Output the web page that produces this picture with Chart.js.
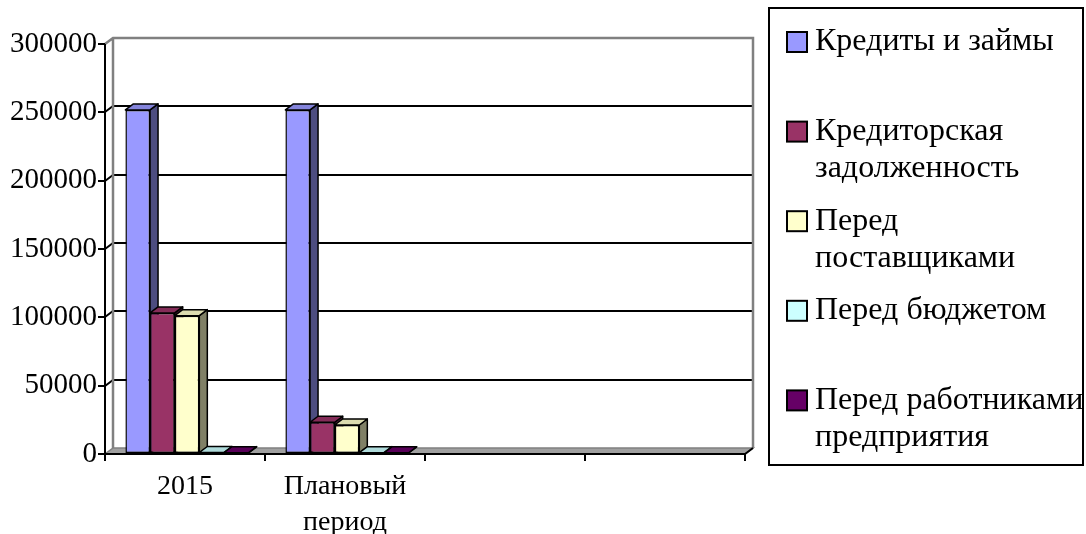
<!DOCTYPE html>
<html lang="ru">
<head>
<meta charset="utf-8">
<title>Кредиты и кредиторская задолженность</title>
<script src="https://cdn.jsdelivr.net/npm/chart.js@4/dist/chart.umd.min.js"></script>
<style>
  html, body { margin: 0; padding: 0; background: #ffffff; }
  #wrap { position: relative; width: 1086px; height: 534px; }
</style>
</head>
<body>
<div id="wrap"><canvas id="chart"></canvas></div>
<script>
// Categories along the X axis (two empty slots keep the original spacing)
const categories = ['2015', ['Плановый', 'период'], '', ''];

// Series values, by category
const creditsAndLoans   = [251000, 251000, null, null];
const accountsPayable   = [102500, 22500, null, null];
const toSuppliers       = [100500, 20500, null, null];
const toBudget          = [350, 250, null, null];
const toEmployees       = [250, 150, null, null];

// Legend captions, split into lines
const seriesNames = [
  ['Кредиты и займы'],
  ['Кредиторская', 'задолженность'],
  ['Перед', 'поставщиками'],
  ['Перед бюджетом'],
  ['Перед работниками', 'предприятия']
];
const seriesColors = ['#9999ff', '#993366', '#ffffcc', '#ccffff', '#660066'];

// Value axis
const yMin = 0, yMax = 300000, yStep = 50000;

const FONT = '"Liberation Serif", "Times New Roman", serif';
const DEPTH = { dx: 8, dy: -6 };

function shade(hex, k) {
  const n = parseInt(hex.slice(1), 16);
  const r = Math.round(((n >> 16) & 255) * k);
  const g = Math.round(((n >> 8) & 255) * k);
  const b = Math.round((n & 255) * k);
  return `rgb(${r},${g},${b})`;
}

function poly(ctx, pts) {
  ctx.beginPath();
  ctx.moveTo(pts[0][0], pts[0][1]);
  for (let i = 1; i < pts.length; i++) ctx.lineTo(pts[i][0], pts[i][1]);
  ctx.closePath();
}

// Back wall, floor, gridlines and bar extrusions
const scene3d = {
  id: 'scene3d',
  beforeDatasetsDraw(chart) {
    const { ctx, chartArea: { left, right, top, bottom }, scales: { y } } = chart;
    const { dx, dy } = DEPTH;
    ctx.save();
    ctx.lineJoin = 'miter';

    // back wall
    ctx.fillStyle = '#ffffff';
    ctx.fillRect(left + dx, top + dy, right - left, bottom - top);

    // floor
    poly(ctx, [[left, bottom], [right, bottom], [right + dx, bottom + dy], [left + dx, bottom + dy]]);
    ctx.fillStyle = '#a0a0a0';
    ctx.fill();
    ctx.strokeStyle = '#808080';
    ctx.lineWidth = 1.5;
    ctx.stroke();

    // gridlines on the back wall, joined to the front axis
    ctx.strokeStyle = '#000000';
    ctx.lineWidth = 2;
    y.ticks.forEach(t => {
      if (t.value <= yMin || t.value >= yMax) return;
      const yy = Math.round(y.getPixelForValue(t.value));
      ctx.beginPath();
      ctx.moveTo(left, yy);
      ctx.lineTo(left + dx, yy + dy);
      ctx.lineTo(right + dx, yy + dy);
      ctx.stroke();
    });

    // wall edges
    ctx.strokeStyle = '#808080';
    ctx.lineWidth = 2.5;
    ctx.beginPath();
    ctx.moveTo(left, top);
    ctx.lineTo(left + dx, top + dy);
    ctx.lineTo(right + dx, top + dy);
    ctx.lineTo(right + dx, bottom + dy);
    ctx.moveTo(left + dx, top + dy);
    ctx.lineTo(left + dx, bottom + dy);
    ctx.stroke();
    ctx.restore();

    // bars sit slightly into the depth
    ctx.save();
    ctx.translate(2, -1);
    const bars = [];
    chart.data.datasets.forEach((ds, i) => {
      const meta = chart.getDatasetMeta(i);
      meta.data.forEach((bar, j) => {
        if (ds.data[j] == null) return;
        const p = bar.getProps(['x', 'y', 'base', 'width'], true);
        bars.push({ l: p.x - p.width / 2, r: p.x + p.width / 2, t: p.y, b: p.base, c: ds.backgroundColor });
      });
    });
    bars.sort((a, b) => a.l - b.l);
    ctx.lineWidth = 1.5;
    ctx.strokeStyle = '#000000';
    ctx.lineJoin = 'round';
    bars.forEach(bar => {
      poly(ctx, [[bar.r, bar.t], [bar.r + dx, bar.t + dy], [bar.r + dx, bar.b + dy], [bar.r, bar.b]]);
      ctx.fillStyle = shade(bar.c, 0.5);
      ctx.fill();
      ctx.stroke();
      poly(ctx, [[bar.l, bar.t], [bar.l + dx, bar.t + dy], [bar.r + dx, bar.t + dy], [bar.r, bar.t]]);
      ctx.fillStyle = shade(bar.c, 0.86);
      ctx.fill();
      ctx.stroke();
    });
    // translation stays in effect while the bar fronts are drawn
  },
  afterDatasetsDraw(chart) {
    const { ctx, chartArea: { left, right, top, bottom }, scales: { y } } = chart;
    const { dx, dy } = DEPTH;
    ctx.restore();
    ctx.save();
    ctx.strokeStyle = '#000000';
    ctx.lineWidth = 2;
    // front value axis with ticks
    ctx.beginPath();
    ctx.moveTo(left, top);
    ctx.lineTo(left, bottom);
    y.ticks.forEach(t => {
      const yy = Math.round(y.getPixelForValue(t.value));
      ctx.moveTo(left - 7, yy);
      ctx.lineTo(left, yy);
    });
    // front category axis with ticks between categories
    ctx.moveTo(left - 7, bottom);
    ctx.lineTo(right, bottom);
    ctx.lineTo(right + dx, bottom + dy);
    const n = chart.data.labels.length;
    for (let i = 0; i <= n; i++) {
      const xx = Math.round(left + (right - left) * i / n);
      ctx.moveTo(xx, bottom);
      ctx.lineTo(xx, bottom + 7);
    }
    ctx.stroke();
    ctx.restore();
  }
};

// Boxed legend to the right of the plot
const boxLegend = {
  id: 'boxLegend',
  afterDraw(chart) {
    const { ctx } = chart;
    ctx.save();
    ctx.strokeStyle = '#000000';
    ctx.lineWidth = 2;
    ctx.strokeRect(769, 8, 314, 457);
    ctx.font = `32px ${FONT}`;
    ctx.textBaseline = 'middle';
    ctx.textAlign = 'left';
    chart.data.datasets.forEach((ds, i) => {
      const y0 = 42 + i * 89.6;
      ctx.fillStyle = ds.backgroundColor;
      ctx.fillRect(787, y0 - 10, 20, 20);
      ctx.strokeRect(787, y0 - 10, 20, 20);
      ctx.fillStyle = '#000000';
      seriesNames[i].forEach((line, k) => ctx.fillText(line, 815, y0 + k * 37));
    });
    ctx.restore();
  }
};

const seriesValues = [creditsAndLoans, accountsPayable, toSuppliers, toBudget, toEmployees];

new Chart(document.getElementById('chart'), {
  type: 'bar',
  data: {
    labels: categories,
    datasets: seriesValues.map((vals, i) => ({
      label: seriesNames[i].join(' '),
      data: vals,
      backgroundColor: seriesColors[i],
      borderColor: '#000000',
      borderWidth: 1.5,
      borderSkipped: false,
      barPercentage: 1,
      categoryPercentage: 0.77,
      clip: false
    }))
  },
  options: {
    responsive: true,
    maintainAspectRatio: false,
    devicePixelRatio: 1,
    animation: false,
    layout: { padding: { left: 0, right: 341, top: 44, bottom: 0 } },
    plugins: {
      legend: { display: false },
      tooltip: { enabled: false }
    },
    scales: {
      x: {
        grid: { display: false, drawTicks: false },
        border: { display: false },
        ticks: {
          color: '#000000',
          font: { family: FONT, size: 28, lineHeight: 1.28 },
          padding: 15,
          maxRotation: 0,
          autoSkip: false
        },
        afterFit(s) { s.height = 80; }
      },
      y: {
        min: yMin,
        max: yMax,
        grid: { display: false, drawTicks: false },
        border: { display: false },
        ticks: {
          stepSize: yStep,
          color: '#000000',
          font: { family: FONT, size: 29 },
          padding: 8,
          callback: v => String(v)
        },
        afterFit(s) { s.width = 105; }
      }
    }
  },
  plugins: [scene3d, boxLegend]
});
</script>
</body>
</html>
